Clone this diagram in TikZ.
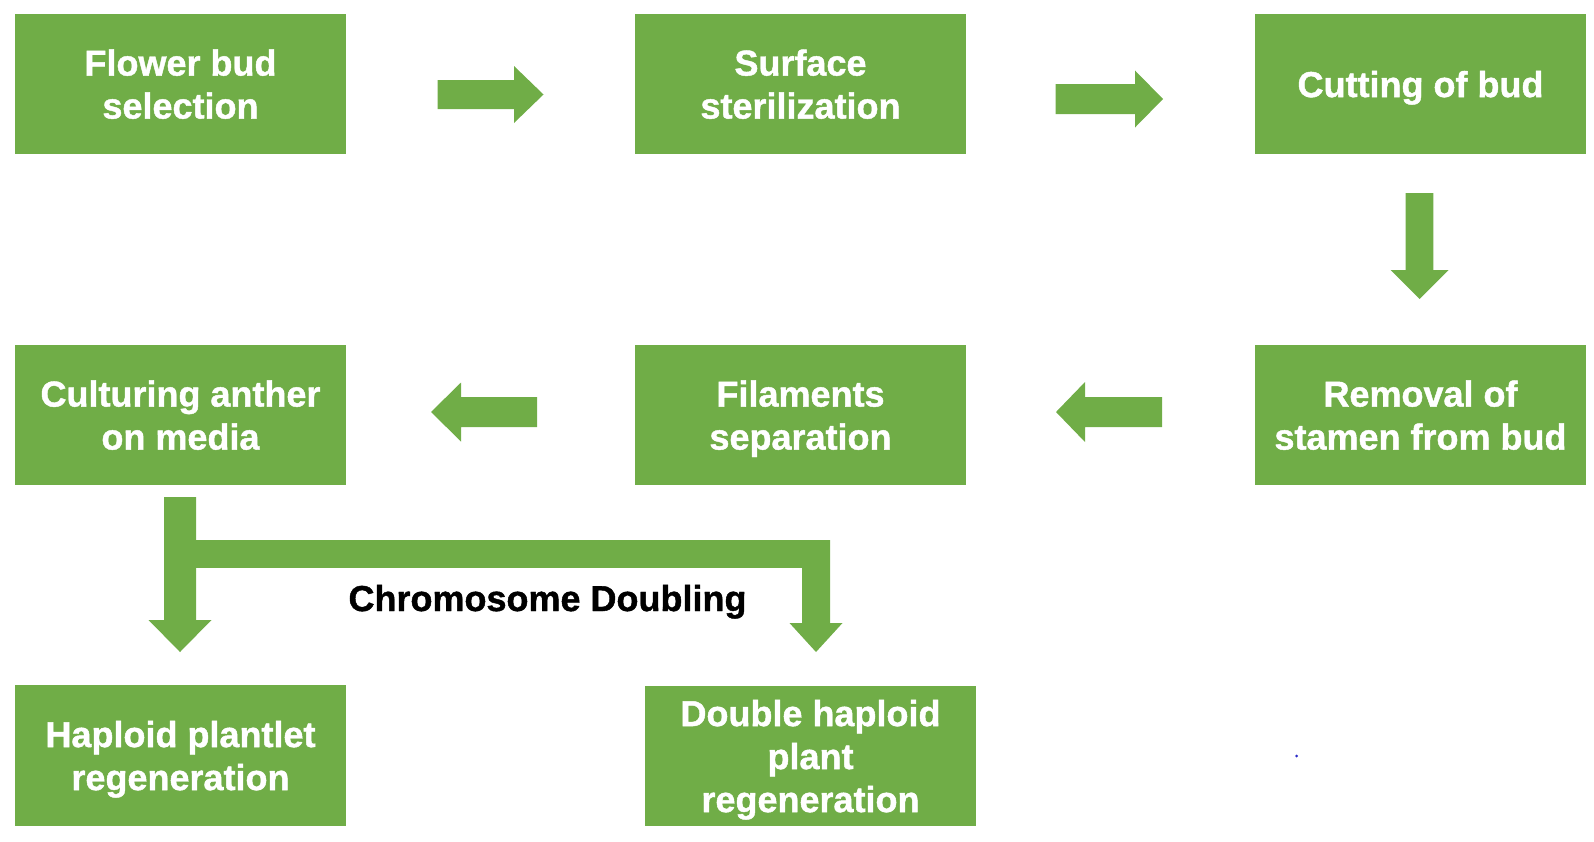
\documentclass[tikz,border=0pt]{standalone}
\usepackage{fontspec}
\setmainfont{Liberation Sans}
\newfontfamily\heavyfont{Liberation Sans}[BoldFeatures={FakeBold=1.2}]
\usetikzlibrary{calc}
\definecolor{boxgreen}{HTML}{70AD47}
\definecolor{dotblue}{HTML}{2A2AC8}
% block arrow: #1 tail, #2 tip, #3 half shaft width, #4 half head width, #5 head length
\newcommand\blockarrow[5]{%
  \fill[boxgreen] let \p1=(#1), \p2=(#2), \n1={atan2(\y2-\y1,\x2-\x1)} in
    ($(\p1)+(\n1+90:#3)$)
    -- ($(\p2)+(\n1+180:#5)+(\n1+90:#3)$)
    -- ($(\p2)+(\n1+180:#5)+(\n1+90:#4)$)
    -- (\p2)
    -- ($(\p2)+(\n1+180:#5)+(\n1-90:#4)$)
    -- ($(\p2)+(\n1+180:#5)+(\n1-90:#3)$)
    -- ($(\p1)+(\n1-90:#3)$) -- cycle;}
\tikzset{
  stepbox/.style={fill=boxgreen, text=white, minimum width=331pt, minimum height=140pt,
    inner sep=0pt, align=center, text depth=-3pt,
    font=\heavyfont\fontsize{36}{43}\selectfont\bfseries},
  labeltext/.style={font=\heavyfont\fontsize{36}{43}\selectfont\bfseries, text=black, inner sep=0pt}
}
\begin{document}
\begin{tikzpicture}[x=1pt,y=-1pt]
\useasboundingbox (0,0) rectangle (1594,841);
% boxes
\node[stepbox] (b1) at (180.5,84) {Flower bud\\selection};
\node[stepbox] (b2) at (800.5,84) {Surface\\sterilization};
\node[stepbox] (b3) at (1420.5,84) {Cutting of bud};
\node[stepbox] (b4) at (180.5,415) {Culturing anther\\on media};
\node[stepbox] (b5) at (800.5,415) {Filaments\\separation};
\node[stepbox] (b6) at (1420.5,415) {Removal of\\stamen from bud};
\node[stepbox, minimum height=141pt] (b7) at (180.5,755.5) {Haploid plantlet\\regeneration};
\node[stepbox] (b8) at (810.5,756) {Double haploid\\plant\\regeneration};
% arrow end points
\coordinate (a1s) at (437.5,94.5);  \coordinate (a1e) at (543.5,94.5);
\coordinate (a2s) at (1055.5,99);   \coordinate (a2e) at (1163,99);
\coordinate (a3s) at (1419.5,193);  \coordinate (a3e) at (1419.5,299);
\coordinate (a4s) at (1162,412);    \coordinate (a4e) at (1056,412);
\coordinate (a5s) at (537,412);     \coordinate (a5e) at (431,412);
\coordinate (a6s) at (180,497);     \coordinate (a6e) at (180,652);
\coordinate (a7s) at (816,540);     \coordinate (a7e) at (816,652);
\coordinate (barl) at (180,540);    \coordinate (barr) at (816,568);
% arrows
\blockarrow{a1s}{a1e}{14.5pt}{28.5pt}{29.5pt}
\blockarrow{a2s}{a2e}{15pt}{28.5pt}{28pt}
\blockarrow{a3s}{a3e}{13.8pt}{29pt}{29pt}
\blockarrow{a4s}{a4e}{15pt}{30pt}{29pt}
\blockarrow{a5s}{a5e}{15pt}{29.5pt}{30pt}
\blockarrow{a6s}{a6e}{16pt}{31.5pt}{32pt}
\fill[boxgreen] (barl) rectangle (barr);
\blockarrow{a7s}{a7e}{14pt}{26.5pt}{29pt}
% label
\node[labeltext, anchor=base] (cd) at (547.5,611) {Chromosome Doubling};
% stray dot
\fill[dotblue] (1296.5,756) circle (1.5pt);
\end{tikzpicture}
\end{document}
